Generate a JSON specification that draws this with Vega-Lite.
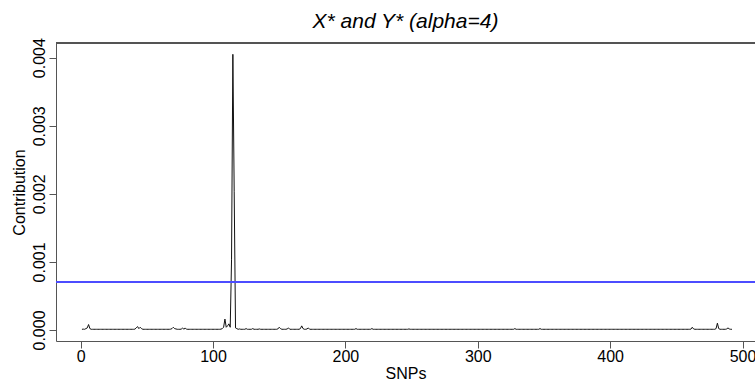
{
"$schema": "https://vega.github.io/schema/vega-lite/v6.json",
"width": 699, "height": 298,
"autosize": {"type": "none"},
"padding": {"left": 56, "top": 43, "right": 0, "bottom": 42},
"background": "white",
"title": {"text": "X* and Y* (alpha=4)", "frame": "group", "font": "Liberation Sans", "fontStyle": "italic", "fontWeight": "normal", "fontSize": 21, "color": "black", "anchor": "middle", "baseline": "alphabetic", "offset": 15, "dy": 26},
"config": {
 "view": {"stroke": null},
 "axis": {"grid": false, "domainColor": "#555", "tickColor": "#555", "tickSize": 7, "labelFont": "Liberation Sans", "labelFontSize": 16, "labelColor": "black", "titleFont": "Liberation Sans", "titleFontSize": 16, "titleFontWeight": "normal", "titleColor": "black"}
},
"data": {"values": [
{"snp":1,"c":0.00001},{"snp":2,"c":0.000012},{"snp":3,"c":0.00001},{"snp":4,"c":0.00002},{"snp":5,"c":0.00003},{"snp":6,"c":0.00008},{"snp":7,"c":0.00002},{"snp":8,"c":0.00001},{"snp":9,"c":0.00001},{"snp":10,"c":0.00001},
{"snp":11,"c":0.00001},{"snp":12,"c":0.00001},{"snp":13,"c":0.00001},{"snp":14,"c":0.00001},{"snp":15,"c":0.00001},{"snp":16,"c":0.00001},{"snp":17,"c":0.00001},{"snp":18,"c":0.00001},{"snp":19,"c":0.00001},{"snp":20,"c":0.00001},
{"snp":21,"c":0.00001},{"snp":22,"c":0.00001},{"snp":23,"c":0.00001},{"snp":24,"c":0.00001},{"snp":25,"c":0.00001},{"snp":26,"c":0.00001},{"snp":27,"c":0.00001},{"snp":28,"c":0.00001},{"snp":29,"c":0.00001},{"snp":30,"c":0.00001},
{"snp":31,"c":0.00001},{"snp":32,"c":0.00001},{"snp":33,"c":0.00001},{"snp":34,"c":0.00001},{"snp":35,"c":0.00001},{"snp":36,"c":0.00001},{"snp":37,"c":0.00001},{"snp":38,"c":0.00001},{"snp":39,"c":0.00001},{"snp":40,"c":0.00001},
{"snp":41,"c":0.000012},{"snp":42,"c":0.00003},{"snp":43,"c":0.00005},{"snp":44,"c":0.00002},{"snp":45,"c":0.00004},{"snp":46,"c":0.00002},{"snp":47,"c":0.00001},{"snp":48,"c":0.00001},{"snp":49,"c":0.00001},{"snp":50,"c":0.00001},
{"snp":51,"c":0.00001},{"snp":52,"c":0.00001},{"snp":53,"c":0.00001},{"snp":54,"c":0.00001},{"snp":55,"c":0.00001},{"snp":56,"c":0.00001},{"snp":57,"c":0.00001},{"snp":58,"c":0.00001},{"snp":59,"c":0.00001},{"snp":60,"c":0.00001},
{"snp":61,"c":0.00001},{"snp":62,"c":0.00001},{"snp":63,"c":0.00001},{"snp":64,"c":0.00001},{"snp":65,"c":0.00001},{"snp":66,"c":0.00001},{"snp":67,"c":0.00001},{"snp":68,"c":0.000012},{"snp":69,"c":0.00002},{"snp":70,"c":0.00004},
{"snp":71,"c":0.00002},{"snp":72,"c":0.000015},{"snp":73,"c":0.00001},{"snp":74,"c":0.00001},{"snp":75,"c":0.00001},{"snp":76,"c":0.000012},{"snp":77,"c":0.00003},{"snp":78,"c":0.00001},{"snp":79,"c":0.00003},{"snp":80,"c":0.00001},
{"snp":81,"c":0.00001},{"snp":82,"c":0.00001},{"snp":83,"c":0.00001},{"snp":84,"c":0.00001},{"snp":85,"c":0.00001},{"snp":86,"c":0.00001},{"snp":87,"c":0.00001},{"snp":88,"c":0.00001},{"snp":89,"c":0.00001},{"snp":90,"c":0.00001},
{"snp":91,"c":0.00001},{"snp":92,"c":0.00001},{"snp":93,"c":0.00001},{"snp":94,"c":0.00001},{"snp":95,"c":0.00001},{"snp":96,"c":0.00001},{"snp":97,"c":0.00001},{"snp":98,"c":0.00001},{"snp":99,"c":0.00001},{"snp":100,"c":0.00001},
{"snp":101,"c":0.00001},{"snp":102,"c":0.00001},{"snp":103,"c":0.00001},{"snp":104,"c":0.00001},{"snp":105,"c":0.00001},{"snp":106,"c":0.000012},{"snp":107,"c":0.00002},{"snp":108,"c":0.00004},{"snp":109,"c":0.00016},{"snp":110,"c":0.00004},
{"snp":111,"c":0.00006},{"snp":112,"c":0.00009},{"snp":113,"c":0.00004},{"snp":114,"c":0.00103},{"snp":115,"c":0.00405},{"snp":116,"c":0.00203},{"snp":117,"c":0.00003},{"snp":118,"c":0.00002},{"snp":119,"c":0.00001},{"snp":120,"c":0.000015},
{"snp":121,"c":0.00001},{"snp":122,"c":0.00001},{"snp":123,"c":0.00001},{"snp":124,"c":0.00001},{"snp":125,"c":0.00002},{"snp":126,"c":0.00001},{"snp":127,"c":0.00001},{"snp":128,"c":0.00001},{"snp":129,"c":0.00001},{"snp":130,"c":0.00002},
{"snp":131,"c":0.00001},{"snp":132,"c":0.00001},{"snp":133,"c":0.00001},{"snp":134,"c":0.00001},{"snp":135,"c":0.000015},{"snp":136,"c":0.00001},{"snp":137,"c":0.00001},{"snp":138,"c":0.00001},{"snp":139,"c":0.00001},{"snp":140,"c":0.00001},
{"snp":141,"c":0.00001},{"snp":142,"c":0.00001},{"snp":143,"c":0.00001},{"snp":144,"c":0.00001},{"snp":145,"c":0.00001},{"snp":146,"c":0.00001},{"snp":147,"c":0.00001},{"snp":148,"c":0.00001},{"snp":149,"c":0.000015},{"snp":150,"c":0.00004},
{"snp":151,"c":0.00002},{"snp":152,"c":0.00001},{"snp":153,"c":0.00001},{"snp":154,"c":0.00001},{"snp":155,"c":0.00001},{"snp":156,"c":0.000015},{"snp":157,"c":0.00003},{"snp":158,"c":0.00001},{"snp":159,"c":0.00001},{"snp":160,"c":0.00001},
{"snp":161,"c":0.00001},{"snp":162,"c":0.00001},{"snp":163,"c":0.00001},{"snp":164,"c":0.00001},{"snp":165,"c":0.00001},{"snp":166,"c":0.00002},{"snp":167,"c":0.00006},{"snp":168,"c":0.00002},{"snp":169,"c":0.00001},{"snp":170,"c":0.00001},
{"snp":171,"c":0.000015},{"snp":172,"c":0.00003},{"snp":173,"c":0.00001},{"snp":174,"c":0.00001},{"snp":175,"c":0.00001},{"snp":176,"c":0.00001},{"snp":177,"c":0.00001},{"snp":178,"c":0.00001},{"snp":179,"c":0.00001},{"snp":180,"c":0.00001},
{"snp":181,"c":0.00001},{"snp":182,"c":0.00001},{"snp":183,"c":0.00001},{"snp":184,"c":0.00001},{"snp":185,"c":0.00001},{"snp":186,"c":0.00001},{"snp":187,"c":0.00001},{"snp":188,"c":0.00001},{"snp":189,"c":0.00001},{"snp":190,"c":0.00001},
{"snp":191,"c":0.00001},{"snp":192,"c":0.00001},{"snp":193,"c":0.00001},{"snp":194,"c":0.00001},{"snp":195,"c":0.00001},{"snp":196,"c":0.00001},{"snp":197,"c":0.00001},{"snp":198,"c":0.00001},{"snp":199,"c":0.00001},{"snp":200,"c":0.00001},
{"snp":201,"c":0.00001},{"snp":202,"c":0.00001},{"snp":203,"c":0.00001},{"snp":204,"c":0.00001},{"snp":205,"c":0.00001},{"snp":206,"c":0.00001},{"snp":207,"c":0.00001},{"snp":208,"c":0.00002},{"snp":209,"c":0.00001},{"snp":210,"c":0.00001},
{"snp":211,"c":0.00001},{"snp":212,"c":0.00001},{"snp":213,"c":0.00001},{"snp":214,"c":0.00001},{"snp":215,"c":0.00001},{"snp":216,"c":0.00001},{"snp":217,"c":0.00001},{"snp":218,"c":0.00001},{"snp":219,"c":0.00001},{"snp":220,"c":0.00002},
{"snp":221,"c":0.00001},{"snp":222,"c":0.00001},{"snp":223,"c":0.00001},{"snp":224,"c":0.00001},{"snp":225,"c":0.00001},{"snp":226,"c":0.00001},{"snp":227,"c":0.00001},{"snp":228,"c":0.00001},{"snp":229,"c":0.00001},{"snp":230,"c":0.00001},
{"snp":231,"c":0.00001},{"snp":232,"c":0.00001},{"snp":233,"c":0.00001},{"snp":234,"c":0.00001},{"snp":235,"c":0.00001},{"snp":236,"c":0.00001},{"snp":237,"c":0.00001},{"snp":238,"c":0.00001},{"snp":239,"c":0.00001},{"snp":240,"c":0.00001},
{"snp":241,"c":0.00001},{"snp":242,"c":0.00001},{"snp":243,"c":0.00001},{"snp":244,"c":0.00001},{"snp":245,"c":0.00001},{"snp":246,"c":0.00001},{"snp":247,"c":0.00001},{"snp":248,"c":0.000015},{"snp":249,"c":0.00001},{"snp":250,"c":0.00001},
{"snp":251,"c":0.00001},{"snp":252,"c":0.00001},{"snp":253,"c":0.00001},{"snp":254,"c":0.00001},{"snp":255,"c":0.00001},{"snp":256,"c":0.00001},{"snp":257,"c":0.00001},{"snp":258,"c":0.00001},{"snp":259,"c":0.00001},{"snp":260,"c":0.00001},
{"snp":261,"c":0.00001},{"snp":262,"c":0.00001},{"snp":263,"c":0.00001},{"snp":264,"c":0.00001},{"snp":265,"c":0.00001},{"snp":266,"c":0.00001},{"snp":267,"c":0.00001},{"snp":268,"c":0.00001},{"snp":269,"c":0.00001},{"snp":270,"c":0.00001},
{"snp":271,"c":0.00001},{"snp":272,"c":0.00001},{"snp":273,"c":0.00001},{"snp":274,"c":0.00001},{"snp":275,"c":0.00001},{"snp":276,"c":0.00001},{"snp":277,"c":0.00001},{"snp":278,"c":0.00001},{"snp":279,"c":0.00001},{"snp":280,"c":0.00001},
{"snp":281,"c":0.00001},{"snp":282,"c":0.00001},{"snp":283,"c":0.00001},{"snp":284,"c":0.00001},{"snp":285,"c":0.00001},{"snp":286,"c":0.00001},{"snp":287,"c":0.00001},{"snp":288,"c":0.00001},{"snp":289,"c":0.00001},{"snp":290,"c":0.00001},
{"snp":291,"c":0.00001},{"snp":292,"c":0.00001},{"snp":293,"c":0.00001},{"snp":294,"c":0.00001},{"snp":295,"c":0.00001},{"snp":296,"c":0.00001},{"snp":297,"c":0.00001},{"snp":298,"c":0.00001},{"snp":299,"c":0.00001},{"snp":300,"c":0.00001},
{"snp":301,"c":0.00001},{"snp":302,"c":0.00001},{"snp":303,"c":0.00001},{"snp":304,"c":0.00001},{"snp":305,"c":0.00001},{"snp":306,"c":0.00001},{"snp":307,"c":0.00001},{"snp":308,"c":0.00001},{"snp":309,"c":0.00001},{"snp":310,"c":0.00001},
{"snp":311,"c":0.00001},{"snp":312,"c":0.00001},{"snp":313,"c":0.00001},{"snp":314,"c":0.00001},{"snp":315,"c":0.00001},{"snp":316,"c":0.00001},{"snp":317,"c":0.00001},{"snp":318,"c":0.00001},{"snp":319,"c":0.00001},{"snp":320,"c":0.00001},
{"snp":321,"c":0.00001},{"snp":322,"c":0.00001},{"snp":323,"c":0.00001},{"snp":324,"c":0.00001},{"snp":325,"c":0.00001},{"snp":326,"c":0.00001},{"snp":327,"c":0.00001},{"snp":328,"c":0.00002},{"snp":329,"c":0.00001},{"snp":330,"c":0.00001},
{"snp":331,"c":0.00001},{"snp":332,"c":0.00001},{"snp":333,"c":0.00001},{"snp":334,"c":0.00001},{"snp":335,"c":0.00001},{"snp":336,"c":0.00001},{"snp":337,"c":0.00001},{"snp":338,"c":0.00001},{"snp":339,"c":0.00001},{"snp":340,"c":0.00001},
{"snp":341,"c":0.00001},{"snp":342,"c":0.00001},{"snp":343,"c":0.00001},{"snp":344,"c":0.00001},{"snp":345,"c":0.00001},{"snp":346,"c":0.00001},{"snp":347,"c":0.00002},{"snp":348,"c":0.00001},{"snp":349,"c":0.00001},{"snp":350,"c":0.00001},
{"snp":351,"c":0.00001},{"snp":352,"c":0.00001},{"snp":353,"c":0.00001},{"snp":354,"c":0.00001},{"snp":355,"c":0.00001},{"snp":356,"c":0.00001},{"snp":357,"c":0.00001},{"snp":358,"c":0.00001},{"snp":359,"c":0.00001},{"snp":360,"c":0.00001},
{"snp":361,"c":0.00001},{"snp":362,"c":0.00001},{"snp":363,"c":0.00001},{"snp":364,"c":0.00001},{"snp":365,"c":0.00001},{"snp":366,"c":0.00001},{"snp":367,"c":0.00001},{"snp":368,"c":0.00001},{"snp":369,"c":0.00001},{"snp":370,"c":0.00001},
{"snp":371,"c":0.00001},{"snp":372,"c":0.00001},{"snp":373,"c":0.00001},{"snp":374,"c":0.00001},{"snp":375,"c":0.00001},{"snp":376,"c":0.00001},{"snp":377,"c":0.00001},{"snp":378,"c":0.00001},{"snp":379,"c":0.00001},{"snp":380,"c":0.00001},
{"snp":381,"c":0.00001},{"snp":382,"c":0.00001},{"snp":383,"c":0.00001},{"snp":384,"c":0.00001},{"snp":385,"c":0.00001},{"snp":386,"c":0.00001},{"snp":387,"c":0.00001},{"snp":388,"c":0.00001},{"snp":389,"c":0.00001},{"snp":390,"c":0.00001},
{"snp":391,"c":0.00001},{"snp":392,"c":0.00001},{"snp":393,"c":0.00001},{"snp":394,"c":0.00001},{"snp":395,"c":0.00001},{"snp":396,"c":0.00001},{"snp":397,"c":0.00001},{"snp":398,"c":0.00001},{"snp":399,"c":0.00001},{"snp":400,"c":0.00001},
{"snp":401,"c":0.00001},{"snp":402,"c":0.00001},{"snp":403,"c":0.00001},{"snp":404,"c":0.00001},{"snp":405,"c":0.00001},{"snp":406,"c":0.00001},{"snp":407,"c":0.00001},{"snp":408,"c":0.00001},{"snp":409,"c":0.00001},{"snp":410,"c":0.00001},
{"snp":411,"c":0.00001},{"snp":412,"c":0.00001},{"snp":413,"c":0.00001},{"snp":414,"c":0.00001},{"snp":415,"c":0.00001},{"snp":416,"c":0.00001},{"snp":417,"c":0.00001},{"snp":418,"c":0.00001},{"snp":419,"c":0.00001},{"snp":420,"c":0.00001},
{"snp":421,"c":0.00001},{"snp":422,"c":0.00001},{"snp":423,"c":0.00001},{"snp":424,"c":0.00001},{"snp":425,"c":0.00001},{"snp":426,"c":0.00001},{"snp":427,"c":0.00001},{"snp":428,"c":0.00001},{"snp":429,"c":0.00001},{"snp":430,"c":0.00001},
{"snp":431,"c":0.00001},{"snp":432,"c":0.00001},{"snp":433,"c":0.00001},{"snp":434,"c":0.00001},{"snp":435,"c":0.00001},{"snp":436,"c":0.00001},{"snp":437,"c":0.00001},{"snp":438,"c":0.00001},{"snp":439,"c":0.00001},{"snp":440,"c":0.00001},
{"snp":441,"c":0.00001},{"snp":442,"c":0.00001},{"snp":443,"c":0.00001},{"snp":444,"c":0.00001},{"snp":445,"c":0.00001},{"snp":446,"c":0.00001},{"snp":447,"c":0.00001},{"snp":448,"c":0.00001},{"snp":449,"c":0.00001},{"snp":450,"c":0.00001},
{"snp":451,"c":0.00001},{"snp":452,"c":0.00001},{"snp":453,"c":0.00001},{"snp":454,"c":0.00001},{"snp":455,"c":0.00001},{"snp":456,"c":0.00001},{"snp":457,"c":0.00001},{"snp":458,"c":0.00001},{"snp":459,"c":0.00001},{"snp":460,"c":0.00001},
{"snp":461,"c":0.000012},{"snp":462,"c":0.00004},{"snp":463,"c":0.000015},{"snp":464,"c":0.00001},{"snp":465,"c":0.00001},{"snp":466,"c":0.00001},{"snp":467,"c":0.00001},{"snp":468,"c":0.00001},{"snp":469,"c":0.00001},{"snp":470,"c":0.00001},
{"snp":471,"c":0.00001},{"snp":472,"c":0.00001},{"snp":473,"c":0.00001},{"snp":474,"c":0.00001},{"snp":475,"c":0.00001},{"snp":476,"c":0.00001},{"snp":477,"c":0.00001},{"snp":478,"c":0.00001},{"snp":479,"c":0.00001},{"snp":480,"c":0.00002},
{"snp":481,"c":0.0001},{"snp":482,"c":0.00002},{"snp":483,"c":0.00001},{"snp":484,"c":0.00001},{"snp":485,"c":0.00001},{"snp":486,"c":0.00001},{"snp":487,"c":0.00001},{"snp":488,"c":0.000015},{"snp":489,"c":0.00003},{"snp":490,"c":0.000015},
{"snp":491,"c":0.00001},{"snp":492,"c":0.00001}
]},
"layer": [
 {"mark": {"type": "line", "color": "#111", "strokeWidth": 1},
  "encoding": {
   "x": {"field": "snp", "type": "quantitative", "scale": {"domain": [-18.6, 509.4], "nice": false, "zero": false},
         "axis": {"values": [0,100,200,300,400,500], "labelPadding": 0, "title": "SNPs", "titlePadding": 1, "labelFlush": false}},
   "y": {"field": "c", "type": "quantitative", "scale": {"domain": [-0.000162, 0.004216], "nice": false, "zero": false},
         "axis": {"values": [0,0.001,0.002,0.003,0.004], "format": ".3f", "labelAngle": -90, "labelPadding": 2, "labelFlush": false, "title": "Contribution", "titleAngle": 270, "titleX": -29, "titleY": 149, "titleAlign": "center", "titleBaseline": "bottom"}}
  }},
 {"mark": {"type": "rule", "color": "#4d4dff", "strokeWidth": 1}, "encoding": {"y": {"datum": 0.0007}}},
 {"mark": {"type": "rule", "color": "#555", "strokeWidth": 1}, "encoding": {"y": {"datum": 0.004216}}}
]
}
